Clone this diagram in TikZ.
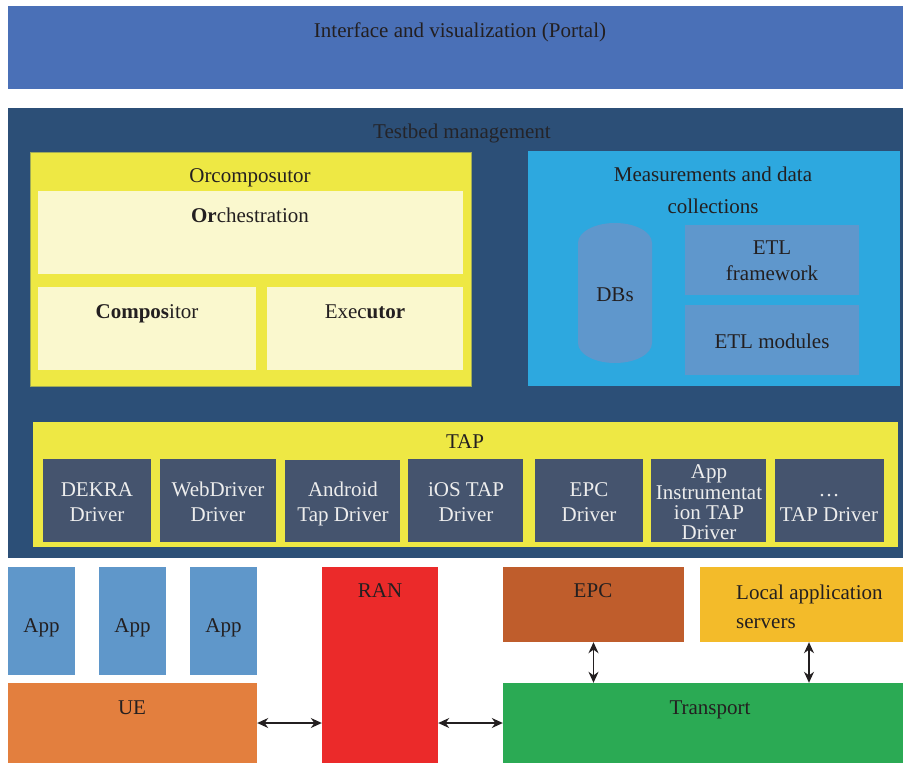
\documentclass[tikz,border=0pt]{standalone}
\usepackage{fontspec}
\setmainfont{Liberation Serif}
\usetikzlibrary{fit,arrows.meta}
\definecolor{portal}{HTML}{4A70B7}
\definecolor{testbed}{HTML}{2C4F77}
\definecolor{yel}{HTML}{EEE844}
\definecolor{lightyel}{HTML}{FAF8CE}
\definecolor{meas}{HTML}{2DA8DF}
\definecolor{etl}{HTML}{5F97CC}
\definecolor{drv}{HTML}{45546E}
\definecolor{app}{HTML}{5F97CA}
\definecolor{ue}{HTML}{E37F3E}
\definecolor{ran}{HTML}{EB2A2A}
\definecolor{epc}{HTML}{BF5D2C}
\definecolor{loc}{HTML}{F3BB2A}
\definecolor{trans}{HTML}{2BAA54}
\definecolor{txt}{HTML}{231F20}
\definecolor{drvtxt}{HTML}{EDEDED}
\tikzset{
  area/.style={fit={#1}, inner sep=0pt, draw=none},
  lbl/.style={text=txt, font=\fontsize{21}{24}\selectfont, inner sep=0pt, anchor=base},
  dlbl/.style={text=drvtxt, font=\fontsize{21}{24}\selectfont, inner sep=0pt, anchor=base},
  biarrow/.style={{Stealth[length=11pt,width=10pt]}-{Stealth[length=11pt,width=10pt]}, line width=1.4pt, draw=txt}
}
\begin{document}
\begin{tikzpicture}[x=1pt,y=-1pt]
\useasboundingbox (0,0) rectangle (903,763);
\fill[white] (0,0) rectangle (903,763);
% Portal
\node[area={(8,6)(903,89)}, fill=portal] (portal) {};
\node[lbl] (portalt) at (460,37) {Interface and visualization (Portal)};
% Testbed
\node[area={(8,108)(903,558)}, fill=testbed] (testbed) {};
\node[lbl, text=txt!90!testbed] (testbedt) at (462,138) {Testbed management};
% Orcomposutor
\node[area={(30,152)(471,386)}, fill=yel, draw=yel!60!testbed, line width=0.6pt] (orc) {};
\node[lbl] (orct) at (250,182) {Orcomposutor};
\node[area={(38,191)(463,274)}, fill=lightyel] (orch) {};
\node[lbl] (orcht) at (250,222) {\textbf{Or}chestration};
\node[area={(38,287)(256,370)}, fill=lightyel] (comp) {};
\node[lbl] (compt) at (147,318) {\textbf{Compos}itor};
\node[area={(267,287)(463,370)}, fill=lightyel] (exec) {};
\node[lbl] (exect) at (365,318) {Exec\textbf{utor}};
% Measurements
\node[area={(528,151)(900,386)}, fill=meas] (meas) {};
\node[lbl] (meast1) at (713,181) {Measurements and data};
\node[lbl] (meast2) at (713,213) {collections};
\fill[etl] (578,243) arc[start angle=180, end angle=360, x radius=37, y radius=20]
  -- (652,343) arc[start angle=0, end angle=180, x radius=37, y radius=20] -- cycle;
\node[lbl] (db) at (615,301) {DBs};
\node[area={(685,225)(859,295)}, fill=etl] (etlf) {};
\node[lbl] (etlft1) at (772,254) {ETL};
\node[lbl] (etlft2) at (772,280) {framework};
\node[area={(685,305)(859,375)}, fill=etl] (etlm) {};
\node[lbl] (etlmt) at (772,348) {ETL modules};
% TAP
\node[area={(33,422)(898,547)}, fill=yel] (tap) {};
\node[lbl] (tapt) at (465,448) {TAP};
\node[area={(43,459)(151,542)}, fill=drv] (d1) {};
\node[dlbl] at (97,496) {DEKRA};
\node[dlbl] at (97,521) {Driver};
\node[area={(160,459)(276,542)}, fill=drv] (d2) {};
\node[dlbl] at (218,496) {WebDriver};
\node[dlbl] at (218,521) {Driver};
\node[area={(285,460)(400,542)}, fill=drv] (d3) {};
\node[dlbl] at (343,496) {Android};
\node[dlbl] at (343,521) {Tap Driver};
\node[area={(408,459)(523,542)}, fill=drv] (d4) {};
\node[dlbl] at (466,496) {iOS TAP};
\node[dlbl] at (466,521) {Driver};
\node[area={(535,459)(643,542)}, fill=drv] (d5) {};
\node[dlbl] at (589,496) {EPC};
\node[dlbl] at (589,521) {Driver};
\node[area={(651,459)(766,542)}, fill=drv] (d6) {};
\node[dlbl] at (709,478) {App};
\node[dlbl] at (709,499) {Instrumentat};
\node[dlbl] at (709,519) {ion TAP};
\node[dlbl] at (709,539) {Driver};
\node[area={(775,459)(884,542)}, fill=drv] (d7) {};
\node[dlbl] at (829,496) {\dots};
\node[dlbl] at (829,521) {TAP Driver};
% Bottom
\node[area={(8,567)(75,675)}, fill=app] (app1) {};
\node[lbl] at (41.5,632) {App};
\node[area={(99,567)(166,675)}, fill=app] (app2) {};
\node[lbl] at (132.5,632) {App};
\node[area={(190,567)(257,675)}, fill=app] (app3) {};
\node[lbl] at (223.5,632) {App};
\node[area={(8,683)(257,763)}, fill=ue] (ue) {};
\node[lbl] (uet) at (132,714) {UE};
\node[area={(322,567)(438,763)}, fill=ran] (ran) {};
\node[lbl] (rant) at (380,597) {RAN};
\node[area={(503,567)(684,642)}, fill=epc] (epc) {};
\node[lbl] (epct) at (593,597) {EPC};
\node[area={(700,567)(903,642)}, fill=loc] (loc) {};
\node[lbl, anchor=base west] (loct1) at (736,599) {Local application};
\node[lbl, anchor=base west] (loct2) at (736,628) {servers};
\node[area={(503,683)(903,763)}, fill=trans] (trans) {};
\node[lbl] (transt) at (710,714) {Transport};
% Arrows
\draw[biarrow] (ue.east) -- (ue.east -| ran.west);
\draw[biarrow] (ran.east |- trans.west) -- (trans.west);
\draw[biarrow] (epc.south) -- (epc.south |- trans.north);
\draw[biarrow] ([xshift=7.5pt]loc.south) -- ([xshift=7.5pt]loc.south |- trans.north);
\end{tikzpicture}
\end{document}
